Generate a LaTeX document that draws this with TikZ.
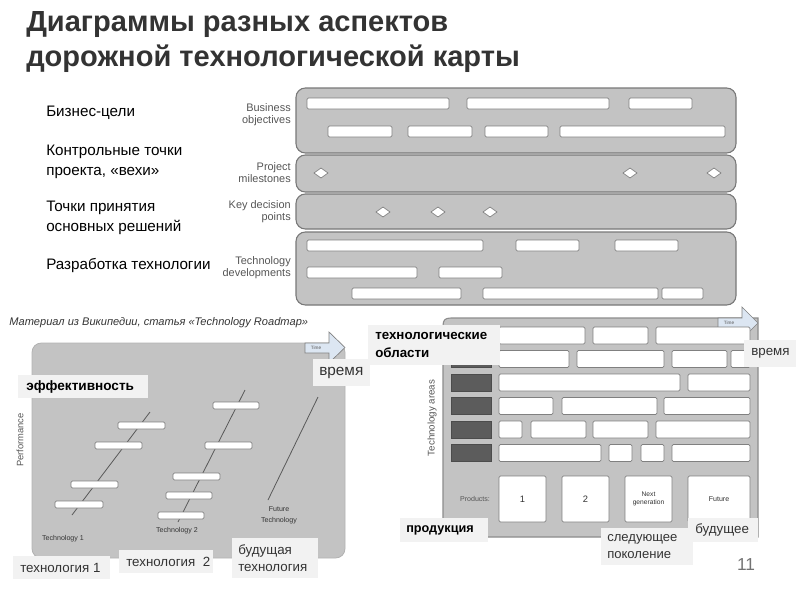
\documentclass[tikz,border=0pt]{standalone}
\usepackage{fontspec}
\setmainfont{Liberation Sans}
\definecolor{bandfill}{RGB}{195,195,195}
\definecolor{bandline}{RGB}{120,120,120}
\definecolor{barline}{RGB}{128,128,128}
\definecolor{areafill}{RGB}{92,92,92}
\definecolor{overlay}{RGB}{242,242,242}
\definecolor{timefill}{RGB}{220,230,242}
\definecolor{smallgray}{RGB}{85,85,85}
\definecolor{titlegray}{RGB}{51,51,51}
\begin{document}
\begin{tikzpicture}[x=0.75pt,y=0.75pt,yscale=-1,xscale=1,
	band/.style={draw=bandline,fill=bandfill,line width=0.8pt,rounded corners=7},
	bar/.style={draw=barline,fill=white,line width=0.6pt,rounded corners=1},
	milestone/.style={draw=barline,fill=white,line width=0.5pt},
	areabox/.style={draw=black!70,fill=areafill,line width=0.5pt},
	overlaybox/.style={fill=overlay,draw=none},
	timearrow/.style={draw=barline,fill=timefill,line width=0.5pt},
	trendline/.style={draw=black!65,line width=0.6pt}]
%set diagram left start at 0, and has size of 800 x 600
\useasboundingbox (0,0) rectangle (800,600);

% Text Node
\draw (25,42) node (title) [anchor=west][inner sep=0.75pt] [align=left,text=titlegray,font=\fontsize{21.8}{26.5}\selectfont\bfseries] {Диаграммы разных аспектов\\дорожной технологической карты};

%Shape: Rounded Rect [id:bands]
\draw [band] (296,88) rectangle (736,153);
\draw [band] (296,155) rectangle (736,192);
\draw [band] (296,194) rectangle (736,229);
\draw [band] (296,232) rectangle (736,305);

%Shape: Rectangle [id:business objectives]
\draw [bar] (307,98) rectangle (449,109);
\draw [bar] (467,98) rectangle (609,109);
\draw [bar] (629,98) rectangle (692,109);
\draw [bar] (328,126) rectangle (392,137);
\draw [bar] (408,126) rectangle (472,137);
\draw [bar] (485,126) rectangle (548,137);
\draw [bar] (560,126) rectangle (725,137);

%Shape: Diamond [id:project milestones]
\draw [milestone] (314,173) -- (321,168) -- (328,173) -- (321,178) -- cycle;
\draw [milestone] (623,173) -- (630,168) -- (637,173) -- (630,178) -- cycle;
\draw [milestone] (707,173) -- (714,168) -- (721,173) -- (714,178) -- cycle;

%Shape: Diamond [id:key decision points]
\draw [milestone] (376,212) -- (383,207) -- (390,212) -- (383,217) -- cycle;
\draw [milestone] (431,212) -- (438,207) -- (445,212) -- (438,217) -- cycle;
\draw [milestone] (483,212) -- (490,207) -- (497,212) -- (490,217) -- cycle;

%Shape: Rectangle [id:technology developments]
\draw [bar] (307,240) rectangle (483,251);
\draw [bar] (516,240) rectangle (579,251);
\draw [bar] (615,240) rectangle (678,251);
\draw [bar] (307,267) rectangle (417,278);
\draw [bar] (439,267) rectangle (502,278);
\draw [bar] (352,288) rectangle (461,299);
\draw [bar] (483,288) rectangle (658,299);
\draw [bar] (662,288) rectangle (703,299);

% Text Node
\draw (292,115) node (bizEn) [anchor=east][inner sep=0.75pt] [align=right,text=smallgray,font=\fontsize{8.2}{9}\selectfont] {Business\\objectives};
% Text Node
\draw (292,173) node (mileEn) [anchor=east][inner sep=0.75pt] [align=right,text=smallgray,font=\fontsize{8.2}{9}\selectfont] {Project\\milestones};
% Text Node
\draw (292,212) node (keyEn) [anchor=east][inner sep=0.75pt] [align=right,text=smallgray,font=\fontsize{8.2}{9}\selectfont] {Key decision\\points};
% Text Node
\draw (292,268) node (devEn) [anchor=east][inner sep=0.75pt] [align=right,text=smallgray,font=\fontsize{8.2}{9}\selectfont] {Technology\\developments};

% Text Node
\draw (45,113) node (bizRu) [anchor=west][inner sep=0.75pt] [align=left,font=\fontsize{11.4}{15}\selectfont] {Бизнес-цели};
% Text Node
\draw (45,162) node (mileRu) [anchor=west][inner sep=0.75pt] [align=left,font=\fontsize{11.4}{15}\selectfont] {Контрольные точки\\проекта, «вехи»};
% Text Node
\draw (45,218) node (keyRu) [anchor=west][inner sep=0.75pt] [align=left,font=\fontsize{11.4}{15}\selectfont] {Точки принятия\\основных решений};
% Text Node
\draw (45,265) node (devRu) [anchor=west][inner sep=0.75pt] [align=left,font=\fontsize{11.4}{15}\selectfont] {Разработка технологии};

% Text Node
\draw (8,323) node (source) [anchor=west][inner sep=0.75pt] [align=left,text=titlegray,font=\fontsize{8.3}{9}\selectfont\itshape] {Материал из Википедии, статья «Technology Roadmap»};

%Shape: Rounded Rect [id:performance frame]
\draw [draw=black!30,fill=bandfill,line width=0.6pt,rounded corners=7] (32,343) rectangle (345,558);
%Shape: Right Arrow [id:time left]
\draw [timearrow] (305,343) -- (329,343) -- (329,332) -- (345,347.5) -- (329,363) -- (329,353) -- (305,353) -- cycle;
\draw (316,348) node (timeL) [inner sep=0pt] [font=\fontsize{3.5}{4}\selectfont,text=smallgray] {Time};

%Straight Lines [id:technology 1]
\draw [trendline] (72,515) -- (150,412);
%Straight Lines [id:technology 2]
\draw [trendline] (178,522) -- (245,390);
%Straight Lines [id:future technology]
\draw [trendline] (268,500) -- (318,397);

%Shape: Rectangle [id:technology 1 steps]
\draw [bar] (55,501) rectangle (103,508);
\draw [bar] (71,481) rectangle (118,488);
\draw [bar] (95,442) rectangle (142,449);
\draw [bar] (118,422) rectangle (165,429);
%Shape: Rectangle [id:technology 2 steps]
\draw [bar] (158,512) rectangle (204,519);
\draw [bar] (166,492) rectangle (212,499);
\draw [bar] (173,473) rectangle (220,480);
\draw [bar] (205,442) rectangle (252,449);
\draw [bar] (213,402) rectangle (259,409);

% Text Node
\draw (20,440) node (perfEn) [rotate=90][inner sep=0.75pt] [text=smallgray,font=\fontsize{7}{8}\selectfont] {Performance};
% Text Node
\draw (63,539) node (tech1En) [inner sep=0.75pt] [text=black!80,font=\fontsize{5.3}{6}\selectfont] {Technology 1};
% Text Node
\draw (177,531) node (tech2En) [inner sep=0.75pt] [text=black!80,font=\fontsize{5.3}{6}\selectfont] {Technology 2};
% Text Node
\draw (279,515) node (futureEn) [inner sep=0.75pt] [align=center,text=black!80,font=\fontsize{5.3}{8}\selectfont] {Future\\Technology};

%Shape: Rectangle [id:overlays left]
\draw [overlaybox] (18,375) rectangle (148,398);
\draw [overlaybox] (313,359) rectangle (370,386);
\draw [overlaybox] (13,556) rectangle (110,579);
\draw [overlaybox] (119,550) rectangle (213,573);
\draw [overlaybox] (232,538) rectangle (318,578);

% Text Node
\draw (25,386.5) node (perfRu) [anchor=west][inner sep=0.75pt] [align=left,font=\fontsize{10.2}{11}\selectfont\bfseries] {эффективность};
% Text Node
\draw (318,372.5) node (timeRuL) [anchor=west][inner sep=0.75pt] [align=left,text=titlegray,font=\fontsize{11.5}{12}\selectfont] {время};
% Text Node
\draw (19,567.5) node (tech1Ru) [anchor=west][inner sep=0.75pt] [align=left,text=titlegray,font=\fontsize{10}{12}\selectfont] {технология 1};
% Text Node
\draw (125,561.5) node (tech2Ru) [anchor=west][inner sep=0.75pt] [align=left,text=titlegray,font=\fontsize{10}{12}\selectfont] {технология~~2};
% Text Node
\draw (237,558) node (futureRu) [anchor=west][inner sep=0.75pt] [align=left,text=titlegray,font=\fontsize{10}{13}\selectfont] {будущая\\технология};

%Shape: Frame [id:technology areas frame]
\draw [draw=black!45,fill=bandfill,line width=0.8pt] (443,537) -- (443,326) .. controls (443,320) and (445,318) .. (451,318) -- (758,318) -- (758,537) -- cycle;
%Shape: Right Arrow [id:time right]
\draw [timearrow] (718,318) -- (742,318) -- (742,307) -- (758,323) -- (742,339) -- (742,328) -- (718,328) -- cycle;
\draw (729,323) node (timeR) [inner sep=0pt] [font=\fontsize{3.5}{4}\selectfont,text=smallgray] {Time};

%Shape: Rectangle [id:technology areas]
\draw [areabox] (451,327) rectangle (491,344);
\draw [areabox] (451,350.5) rectangle (491,367.5);
\draw [areabox] (451,374) rectangle (491,391);
\draw [areabox] (451,397.5) rectangle (491,414.5);
\draw [areabox] (451,421) rectangle (491,438);
\draw [areabox] (451,444.5) rectangle (491,461.5);

%Shape: Rectangle [id:area rows]
\draw [bar] (499,327) rectangle (585,344);
\draw [bar] (593,327) rectangle (648,344);
\draw [bar] (656,327) rectangle (750,344);
\draw [bar] (499,350.5) rectangle (569,367.5);
\draw [bar] (577,350.5) rectangle (664,367.5);
\draw [bar] (672,350.5) rectangle (727,367.5);
\draw [bar] (731,350.5) rectangle (750,367.5);
\draw [bar] (499,374) rectangle (680,391);
\draw [bar] (688,374) rectangle (750,391);
\draw [bar] (499,397.5) rectangle (553,414.5);
\draw [bar] (562,397.5) rectangle (657,414.5);
\draw [bar] (664,397.5) rectangle (750,414.5);
\draw [bar] (499,421) rectangle (522,438);
\draw [bar] (531,421) rectangle (586,438);
\draw [bar] (593,421) rectangle (648,438);
\draw [bar] (656,421) rectangle (750,438);
\draw [bar] (499,444.5) rectangle (601,461.5);
\draw [bar] (609,444.5) rectangle (632,461.5);
\draw [bar] (641,444.5) rectangle (664,461.5);
\draw [bar] (672,444.5) rectangle (750,461.5);

%Shape: Rectangle [id:products]
\draw [bar] (499,476) rectangle (546,522);
\draw [bar] (562,476) rectangle (609,522);
\draw [bar] (625,476) rectangle (672,522);
\draw [bar] (688,476) rectangle (750,522);

% Text Node
\draw (432,418) node (areasEn) [rotate=90][inner sep=0.75pt] [text=smallgray,font=\fontsize{7.3}{8}\selectfont] {Technology areas};
% Text Node
\draw (475,499) node (productsEn) [inner sep=0.75pt] [text=smallgray,font=\fontsize{5.3}{6}\selectfont] {Products:};
% Text Node
\draw (522.5,499) node (prod1) [inner sep=0.75pt] [text=black!80,font=\fontsize{7}{8}\selectfont] {1};
% Text Node
\draw (585.5,499) node (prod2) [inner sep=0.75pt] [text=black!80,font=\fontsize{7}{8}\selectfont] {2};
% Text Node
\draw (648.5,499) node (prodNext) [inner sep=0.75pt] [align=center,text=black!80,font=\fontsize{5}{6.5}\selectfont] {Next\\generation};
% Text Node
\draw (719,499) node (prodFuture) [inner sep=0.75pt] [text=black!80,font=\fontsize{5.3}{6}\selectfont] {Future};

%Shape: Rectangle [id:overlays right]
\draw [overlaybox] (368,325) rectangle (500,365);
\draw [overlaybox] (744,340) rectangle (796,367);
\draw [overlaybox] (400,518) rectangle (488,542);
\draw [overlaybox] (601,528) rectangle (693,565);
\draw [overlaybox] (688,518) rectangle (758,542);

% Text Node
\draw (374,345) node (areasRu) [anchor=west][inner sep=0.75pt] [align=left,font=\fontsize{10}{13}\selectfont\bfseries] {технологические\\области};
% Text Node
\draw (750,353.5) node (timeRuR) [anchor=west][inner sep=0.75pt] [align=left,text=titlegray,font=\fontsize{10}{12}\selectfont] {время};
% Text Node
\draw (405,530) node (productsRu) [anchor=west][inner sep=0.75pt] [align=left,font=\fontsize{9.5}{12}\selectfont\bfseries] {продукция};
% Text Node
\draw (606,546.5) node (nextRu) [anchor=west][inner sep=0.75pt] [align=left,text=titlegray,font=\fontsize{9.8}{13}\selectfont] {следующее\\поколение};
% Text Node
\draw (694,530) node (futureRuR) [anchor=west][inner sep=0.75pt] [align=left,text=titlegray,font=\fontsize{10}{12}\selectfont] {будущее};

% Text Node
\draw (746,565) node (pageNo) [inner sep=0.75pt] [text=black!55,font=\fontsize{13}{15}\selectfont] {11};

\end{tikzpicture}
\end{document}
